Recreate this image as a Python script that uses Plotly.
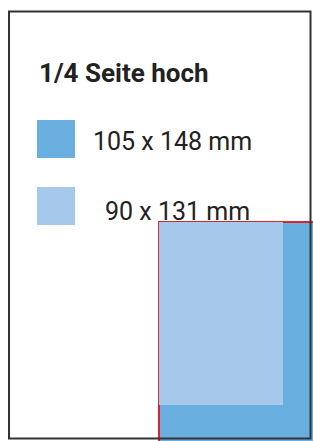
import plotly.graph_objects as go

# ---- data ----
title_text = "1/4 Seite hoch"
format_labels = ["105 x 148 mm", "90 x 131 mm"]
format_width_mm = [105, 90]
format_height_mm = [148, 131]
page_width_mm = 210
bleed_mm = 10

# ---- styles ----
W, H = 313, 441
dark_blue = "#68AEDF"
light_blue = "#A6C9EB"
red = "#D9252D"
border = "#333333"
text_col = "#222222"

def fx(px):
    return px / W

def fy(py):
    return 1 - py / H

# geometry derived from data
dx0 = page_width_mm - format_width_mm[0]
dx1 = page_width_mm + bleed_mm
dy0 = -bleed_mm
dy1 = format_height_mm[0]

lx0 = dx0
lx1 = dx0 + format_width_mm[1]
ly1 = format_height_mm[0]
ly0 = format_height_mm[0] - format_height_mm[1]

fig = go.Figure()
fig.add_trace(go.Scatter(
    x=[dx0, dx1, dx1, dx0, dx0], y=[dy0, dy0, dy1, dy1, dy0],
    mode="lines", fill="toself", fillcolor=dark_blue,
    line=dict(color=red, width=2), hoverinfo="skip", showlegend=False))
fig.add_trace(go.Scatter(
    x=[lx0, lx1, lx1, lx0, lx0], y=[ly0, ly0, ly1, ly1, ly0],
    mode="lines", fill="toself", fillcolor=light_blue,
    line=dict(color=light_blue, width=0), hoverinfo="skip", showlegend=False))

shapes = [
    dict(type="rect", xref="paper", yref="paper",
         x0=fx(9), x1=fx(310.5), y0=fy(438.5), y1=fy(11.5),
         line=dict(color=border, width=2), fillcolor="rgba(0,0,0,0)", layer="above"),
    dict(type="rect", xref="paper", yref="paper",
         x0=fx(37), x1=fx(75), y0=fy(158), y1=fy(120),
         line=dict(width=0), fillcolor=dark_blue, layer="above"),
    dict(type="rect", xref="paper", yref="paper",
         x0=fx(37), x1=fx(75), y0=fy(225), y1=fy(187),
         line=dict(width=0), fillcolor=light_blue, layer="above"),
]

font_family = "Roboto, Noto Sans, sans-serif"
annotations = [
    dict(text="<b>" + title_text + "</b>", xref="paper", yref="paper",
         x=fx(37), y=fy(72.5), xanchor="left", yanchor="middle", showarrow=False,
         font=dict(family=font_family, size=26, color=text_col)),
    dict(text=format_labels[0], xref="paper", yref="paper",
         x=fx(91), y=fy(141), xanchor="left", yanchor="middle", showarrow=False,
         font=dict(family=font_family, size=25, color=text_col)),
    dict(text=format_labels[1], xref="paper", yref="paper",
         x=fx(103), y=fy(211), xanchor="left", yanchor="middle", showarrow=False,
         font=dict(family=font_family, size=25, color=text_col)),
]

fig.update_layout(
    width=W, height=H,
    margin=dict(l=0, r=0, t=0, b=0),
    paper_bgcolor="white", plot_bgcolor="white",
    xaxis=dict(range=[-10.4, 216.8], visible=False, fixedrange=True),
    yaxis=dict(range=[-8.8, 306.9], visible=False, fixedrange=True),
    shapes=shapes, annotations=annotations,
    showlegend=False,
)

fig.write_html(
    "out.html",
    config={"displayModeBar": False},
    post_script="document.body.style.margin='0';document.body.style.overflow='hidden';",
)
